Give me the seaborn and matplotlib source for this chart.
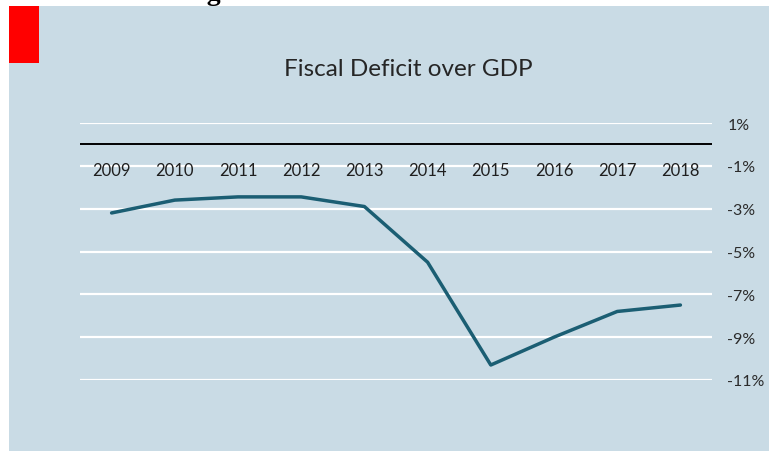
import matplotlib
matplotlib.use("Agg")
import matplotlib.pyplot as plt
from matplotlib.patches import Rectangle
import pandas as pd
import seaborn as sns

years = ["2009", "2010", "2011", "2012", "2013", "2014", "2015", "2016", "2017", "2018"]
deficit_pct = [-3.2, -2.6, -2.45, -2.45, -2.9, -5.5, -10.3, -9.0, -7.8, -7.5]
y_ticks = [1, -1, -3, -5, -7, -9, -11]
y_tick_labels = ["1%", "-1%", "-3%", "-5%", "-7%", "-9%", "-11%"]

df = pd.DataFrame({"year": years, "deficit": deficit_pct})

sns.set_theme(style="white")
plt.rcParams["font.family"] = ["Lato", "DejaVu Sans"]

W, H = 769, 452
fig = plt.figure(figsize=(W / 100, H / 100), dpi=100)
fig.patch.set_facecolor("white")

panel_color = "#C9DBE5"
# chart panel and corner marker
fig.add_artist(Rectangle((9 / W, 0), 760 / W, (H - 7) / H, transform=fig.transFigure,
                         facecolor=panel_color, edgecolor="none", zorder=0))
fig.add_artist(Rectangle((9 / W, (H - 64) / H), 30 / W, 57 / H, transform=fig.transFigure,
                         facecolor="#FF0000", edgecolor="none", zorder=1))

# caption running off the top of the page
fig.text(380 / W, (H + 0.5) / H, "Figure 4: Fiscal Deficit over GDP", ha="center", va="baseline",
         fontsize=20, fontweight="bold", family=["Liberation Serif"], color="black")

ax = fig.add_axes([80 / W, 71 / H, 632 / W, 257 / H])
ax.set_facecolor("none")

for v in y_ticks:
    ax.axhline(v, color="white", linewidth=1.6, zorder=1)
ax.axhline(0, color="black", linewidth=1.4, zorder=2)

sns.lineplot(data=df, x="year", y="deficit", ax=ax, color="#1B5E73", linewidth=2.5,
             sort=False, zorder=3)

ax.set_xlim(-0.5, len(years) - 0.5)
ax.set_ylim(-11, 1)
ax.set_xlabel("")
ax.set_ylabel("")
for s in ax.spines.values():
    s.set_visible(False)

ax.set_xticks(range(len(years)))
ax.set_xticklabels(years)
ax.tick_params(axis="x", length=0)
# year labels sit just under the zero line
for lbl in ax.get_xticklabels():
    lbl.set_visible(False)
for i, yr in enumerate(years):
    ax.text(i, -1.2, yr, ha="center", va="center", fontsize=12, color="#1f1f1f", zorder=4)

ax.yaxis.tick_right()
ax.set_yticks(y_ticks)
ax.set_yticklabels(y_tick_labels)
ax.tick_params(axis="y", length=0, labelsize=11.5, labelcolor="#2b2b2b", pad=11)
for lbl in ax.get_yticklabels():
    lbl.set_horizontalalignment("left")

fig.text(408 / W, (H - 70) / H, "Fiscal Deficit over GDP", ha="center", va="center",
         fontsize=17.5, color="#262626")

fig.savefig("out.png", dpi=100)
